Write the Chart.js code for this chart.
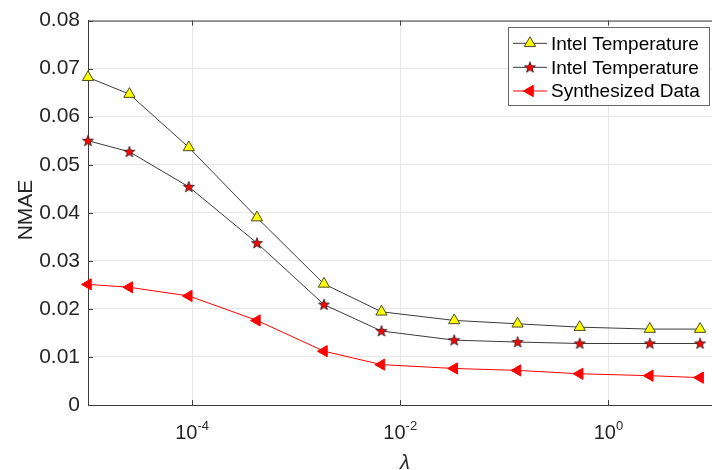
<!DOCTYPE html>
<html>
<head>
<meta charset="utf-8">
<script src="https://cdn.jsdelivr.net/npm/chart.js@4.4.1/dist/chart.umd.min.js"></script>
<style>
  html,body{margin:0;padding:0;background:#fff;overflow:hidden;}
  #wrap{position:relative;width:720px;height:470px;}
</style>
</head>
<body>
<div id="wrap"><canvas id="c"></canvas></div>
<script>
// ---------- datos ----------
const lambdas     = [1e-5, 2.5e-5, 9.3e-5, 4.2e-4, 1.85e-3, 6.6e-3, 0.033, 0.134, 0.53, 2.5, 7.6];
const intelTri    = [0.0682, 0.0647, 0.0536, 0.0390, 0.0252, 0.0194, 0.0176, 0.0169, 0.0162, 0.0158, 0.0158];
const intelStar   = [0.0550, 0.0527, 0.0454, 0.0337, 0.0209, 0.0154, 0.0135, 0.0131, 0.0128, 0.0128, 0.0128];
const synthesized = [0.0251, 0.0245, 0.0227, 0.0176, 0.0112, 0.0084, 0.0076, 0.0072, 0.0065, 0.0061, 0.0057];
const seriesNames = ['Intel Temperature', 'Intel Temperature', 'Synthesized Data'];
const yTickLabels = ['0', '0.01', '0.02', '0.03', '0.04', '0.05', '0.06', '0.07', '0.08'];
const xTickVals   = [1e-4, 1e-2, 1];
const xTickExp    = ['-4', '-2', '0'];
const yLabel = 'NMAE', xLabel = 'λ';

const FONT = "'Liberation Sans', Arial, Helvetica, sans-serif";
const AXIS = '#3c3c3c', GRID = '#e6e6e6', TXT = '#262626';

// estrella rellena (Chart.js no trae pentagrama)
function starImg(){
  const c = document.createElement('canvas'); c.width = c.height = 14;
  const g = c.getContext('2d');
  g.beginPath();
  for(let i=0;i<10;i++){
    const r = i%2 ? 2.4 : 5.8, a = -Math.PI/2 + i*Math.PI/5;
    g.lineTo(7 + r*Math.cos(a), 7.3 + r*Math.sin(a));
  }
  g.closePath();
  g.fillStyle = '#ff0000'; g.fill();
  g.strokeStyle = '#222'; g.lineWidth = 0.8; g.stroke();
  return c;
}
const STAR = starImg();

const pts = arr => lambdas.map((x,i)=>({x, y:arr[i]}));

const datasets = [
  {label:seriesNames[0], data:pts(intelTri), borderColor:'#3a3a3a', borderWidth:1, tension:0, clip:false,
   pointStyle:'triangle', pointRadius:6.5, pointBackgroundColor:'#ffff00', pointBorderColor:'#4a4a20', pointBorderWidth:1},
  {label:seriesNames[1], data:pts(intelStar), borderColor:'#3a3a3a', borderWidth:1, tension:0, clip:false,
   pointStyle:STAR, pointRadius:6},
  {label:seriesNames[2], data:pts(synthesized), borderColor:'#ff0000', borderWidth:1, tension:0, clip:false,
   pointStyle:'triangle', pointRotation:-90, pointRadius:6.5, pointBackgroundColor:'#ff0000', pointBorderColor:'#ff0000', pointBorderWidth:1}
];

// ---------- marco, marcas interiores, etiquetas y leyenda ----------
const extras = {
  id:'extras',
  afterDraw(chart){
    const ctx = chart.ctx, a = chart.chartArea;
    const xs = chart.scales.x, ys = chart.scales.y;
    ctx.save();
    ctx.strokeStyle = AXIS; ctx.lineWidth = 1;
    ctx.beginPath(); ctx.moveTo(a.left, a.top+0.5); ctx.lineTo(a.right, a.top+0.5); ctx.stroke();
    // marcas hacia dentro
    ctx.beginPath();
    yTickLabels.forEach((_,i)=>{ const y = Math.round(ys.getPixelForValue(i*0.01))+0.5; ctx.moveTo(a.left, y); ctx.lineTo(a.left+5, y); });
    xTickVals.forEach(v=>{ const x = Math.round(xs.getPixelForValue(v))+0.5;
      ctx.moveTo(x, a.bottom); ctx.lineTo(x, a.bottom-5); ctx.moveTo(x, a.top); ctx.lineTo(x, a.top+5); });
    ctx.stroke();

    // etiquetas del eje x: 10^n
    ctx.fillStyle = TXT; ctx.textBaseline = 'alphabetic'; ctx.textAlign = 'left';
    xTickVals.forEach((v,i)=>{
      const px = xs.getPixelForValue(v);
      ctx.font = '20px ' + FONT; const w1 = ctx.measureText('10').width;
      ctx.font = '13px ' + FONT; const w2 = ctx.measureText(xTickExp[i]).width;
      const x0 = px - (w1+w2)/2;
      ctx.font = '20px ' + FONT; ctx.fillText('10', x0, 439);
      ctx.font = '13px ' + FONT; ctx.fillText(xTickExp[i], x0 + w1, 429.5);
    });

    // títulos
    ctx.font = 'italic 20px ' + FONT; ctx.textAlign = 'center';
    ctx.fillText(xLabel, (a.left + 722)/2, 469);
    ctx.save();
    ctx.translate(31.5, 210); ctx.rotate(-Math.PI/2);
    ctx.font = '21px ' + FONT; ctx.fillText(yLabel, 0, 0);
    ctx.restore();

    // leyenda
    const L = {x:508.5, y:27.5, w:201, h:78};
    ctx.fillStyle = '#fff'; ctx.fillRect(L.x, L.y, L.w, L.h);
    ctx.strokeStyle = '#666'; ctx.strokeRect(L.x, L.y, L.w, L.h);
    const rows = [43.3, 67.3, 91];
    chart.data.datasets.forEach((d,i)=>{
      const y = rows[i];
      ctx.strokeStyle = d.borderColor; ctx.lineWidth = 1;
      ctx.beginPath(); ctx.moveTo(513, y); ctx.lineTo(547, y); ctx.stroke();
      ctx.fillStyle = d.pointBackgroundColor || '#ff0000';
      ctx.strokeStyle = d.pointBorderColor || '#000';
      ctx.lineWidth = d.pointBorderWidth || 1;
      Chart.helpers.drawPoint(ctx, {pointStyle:d.pointStyle, radius:d.pointRadius, rotation:d.pointRotation||0, borderWidth:ctx.lineWidth}, 530, y);
      ctx.fillStyle = '#000'; ctx.font = '19px ' + FONT; ctx.textAlign = 'left';
      ctx.fillText(d.label, 551, y + 6.3);
    });
    ctx.restore();
  }
};

new Chart(document.getElementById('c'), {
  type:'line',
  data:{datasets},
  options:{
    responsive:true, maintainAspectRatio:false, animation:false, devicePixelRatio:1,
    layout:{padding:{top:18, left:0, right:0, bottom:0}},
    plugins:{legend:{display:false}, tooltip:{enabled:false}},
    scales:{
      x:{type:'logarithmic', min:1e-5, max:10,
         afterBuildTicks:s=>{ s.ticks = xTickVals.map(v=>({value:v})); },
         afterFit:s=>{ s.height = 65; },
         ticks:{display:false},
         grid:{color:GRID, drawTicks:false},
         border:{color:AXIS, width:1}},
      y:{min:0, max:0.08,
         afterFit:s=>{ s.width = 88; },
         ticks:{stepSize:0.01, padding:8, color:TXT, font:{size:21, family:FONT}, callback:(v,i)=>yTickLabels[i]},
         grid:{color:GRID, drawTicks:false},
         border:{color:AXIS, width:1}}
    }
  },
  plugins:[extras]
});
</script>
</body>
</html>
